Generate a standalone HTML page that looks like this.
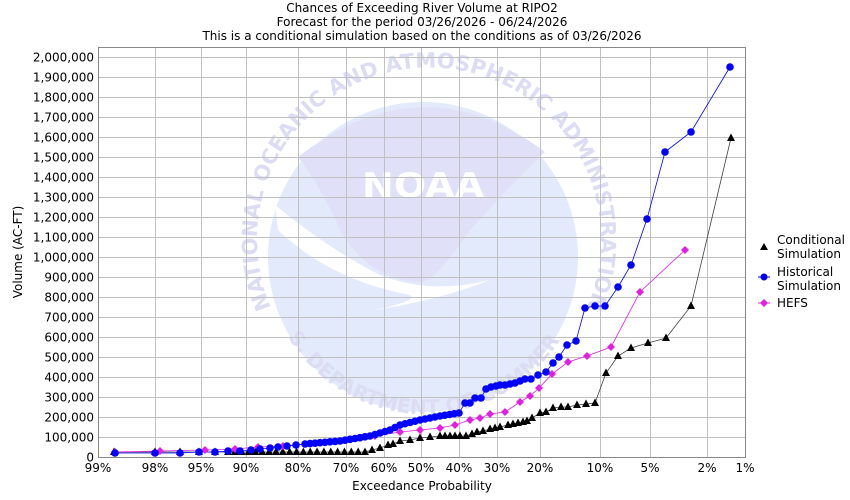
<!DOCTYPE html>
<html><head><meta charset="utf-8"><style>
body{margin:0;background:#fff}
svg{display:block;font-family:"DejaVu Sans","Liberation Sans",sans-serif}
</style></head><body>
<svg id="s" width="850" height="500" viewBox="0 0 850 500" xmlns="http://www.w3.org/2000/svg">
<rect width="850" height="500" fill="#fff"/>
<g font-size="12" fill="#000" text-anchor="middle">
<text x="422" y="12">Chances of Exceeding River Volume at RIPO2</text>
<text x="422" y="26">Forecast for the period 03/26/2026 - 06/24/2026</text>
<text x="422" y="40">This is a conditional simulation based on the conditions as of 03/26/2026</text>
</g>
<defs>
<path id="topArc" d="M 268 300 A 172 172 0 1 1 590 300"/>
<path id="botArc" d="M 290 340 A 160 160 0 0 0 560 340"/>
</defs>
<circle cx="423" cy="257" r="155" fill="#e2eafb"/>
<path d="M298 157 Q 423 60 545 152 Q 520 175 470 230 Q 440 275 423 282 Q 370 282 340 230 Q 320 185 298 157 Z" fill="#e0e0f8"/>
<path d="M275 205 Q 330 250 380 275 Q 430 295 490 280 Q 440 300 375 310 Q 420 300 410 295 Q 330 280 278 230 Z" fill="#fff"/>
<g fill="#fff" font-size="34" font-weight="bold" text-anchor="middle"><text x="423" y="197" textLength="122" lengthAdjust="spacingAndGlyphs">NOAA</text></g>
<g fill="#dcdcf5" font-size="21" font-weight="bold">
<text><textPath href="#topArc" startOffset="50%" text-anchor="middle">NATIONAL OCEANIC AND ATMOSPHERIC ADMINISTRATION</textPath></text>
</g>
<g fill="#dcdcf5" font-size="20" font-weight="bold">
<text><textPath href="#botArc" startOffset="50%" text-anchor="middle">U.S. DEPARTMENT OF COMMERCE</textPath></text>
</g>
<g id="grid" stroke="#c0c0c0" stroke-width="1"></g>
<rect x="98.5" y="47.5" width="647" height="410" fill="none" stroke="#888"/>
<g id="ylab" font-size="12" text-anchor="end"></g>
<g id="xlab" font-size="12" text-anchor="middle"></g>
<text x="422" y="490" font-size="12" text-anchor="middle">Exceedance Probability</text>
<text transform="translate(22,252) rotate(-90)" font-size="12" text-anchor="middle">Volume (AC-FT)</text>
<g id="series"></g>
<g font-size="12">
<polygon points="764,243 768,250 760,250" fill="#000"/>
<text x="777" y="244">Conditional</text><text x="777" y="258">Simulation</text>
<circle cx="764" cy="277" r="3.5" fill="#0000ff"/>
<line x1="758" y1="277" x2="770" y2="277" stroke="#0000ff"/>
<text x="777" y="276">Historical</text><text x="777" y="290">Simulation</text>
<polygon points="764,299 768,303 764,307 760,303" fill="#e020e0"/>
<line x1="758" y1="303" x2="770" y2="303" stroke="#e020e0"/>
<text x="777" y="307">HEFS</text>
</g>
</svg>
<script>
var NS="http://www.w3.org/2000/svg";
function el(t,a,p){var e=document.createElementNS(NS,t);for(var k in a)e.setAttribute(k,a[k]);p.appendChild(e);return e;}
var g=document.getElementById('grid'),yl=document.getElementById('ylab'),xl=document.getElementById('xlab');
for(var i=0;i<=20;i++){var y=457.5-i*20;el('line',{x1:98,x2:745,y1:y,y2:y},g);
var t=el('text',{x:94,y:y+4},yl);t.textContent=(i*100000).toLocaleString('en-US');}
var xs=[[98,"99%"],[155,"98%"],[201,"95%"],[246,"90%"],[298,"80%"],[346,"70%"],[384,"60%"],[421,"50%"],[459,"40%"],[497,"30%"],[540,"20%"],[600,"10%"],[650,"5%"],[707,"2%"],[745,"1%"]];
xs.forEach(function(a){el('line',{x1:a[0]+.5,x2:a[0]+.5,y1:47,y2:458},g);var t=el('text',{x:a[0],y:472},xl);t.textContent=a[1];});
function dense(pts){var o=[];for(var i=0;i<pts.length;i++){var p=pts[i];if(p[2]){var n=p[2],q=pts[i-1];for(var j=1;j<n;j++)o.push([q[0]+(p[0]-q[0])*j/n,q[1]+(p[1]-q[1])*j/n]);}o.push([p[0],p[1]]);}return o;}
var blue=dense([[115,453],[155,453],[180,453],[199,452],[215,452],[228,451],[240,451],[251,450],[260,449],[270,448],[278,447],[287,446],[296,445],[305,444],[340,441,7],[370,436,6],[390,430,4],[400,425,2],[420,420,4],[440,416,4],[459,413,4],[465,403],[470,403],[475,398],[481,398],[486,389],[491,387],[496,386],[500,385],[505,385],[510,384],[515,383],[520,381],[525,379],[531,379],[538,375],[546,372],[553,363],[559,357],[567,345],[576,341],[585,308],[595,306],[605,306],[618,287],[631,265],[647,219],[665,152],[691,132],[730,67]]);
var blk=dense([[114,452],[155,452],[180,452],[199,452],[215,452],[228,452],[365,452,20],[372,450],[380,448],[388,445],[393,444],[400,441],[410,440],[420,438],[430,437],[440,436],[460,436,4],[466,436],[472,434],[477,432],[483,431],[490,429],[495,428],[500,427],[508,425],[513,424],[518,423],[523,422],[527,421],[532,418],[540,413],[546,412],[553,408],[561,407],[568,407],[577,405],[586,404],[595,403],[606,373],[618,356],[631,348],[648,343],[666,338],[691,306],[731,138]]);
var mag=[[115,452],[160,451],[205,450],[235,449],[258,447],[283,446],[305,444],[345,440],[375,436],[400,432],[420,430],[440,428],[455,425],[470,420],[480,418],[490,414],[505,412],[520,402],[530,396],[539,388],[552,374],[568,362],[587,356],[611,347],[640,292],[685,250]];
var s=document.getElementById('series');
function line(p,c){el('polyline',{points:p.map(function(a){return a.join(',')}).join(' '),fill:'none',stroke:c,'stroke-width':0.8},s);}
line(blk,'#404040');line(mag,'#e020e0');line(blue,'#0000ff');
blk.forEach(function(p){el('polygon',{points:p[0]+','+(p[1]-4.5)+' '+(p[0]+4)+','+(p[1]+3)+' '+(p[0]-4)+','+(p[1]+3),fill:'#000'},s);});
mag.forEach(function(p){el('polygon',{points:p[0]+','+(p[1]-4)+' '+(p[0]+4)+','+p[1]+' '+p[0]+','+(p[1]+4)+' '+(p[0]-4)+','+p[1],fill:'#e020e0'},s);});
blue.forEach(function(p){el('circle',{cx:p[0],cy:p[1],r:3.8,fill:'#0000ff'},s);});
</script>
</body></html>
